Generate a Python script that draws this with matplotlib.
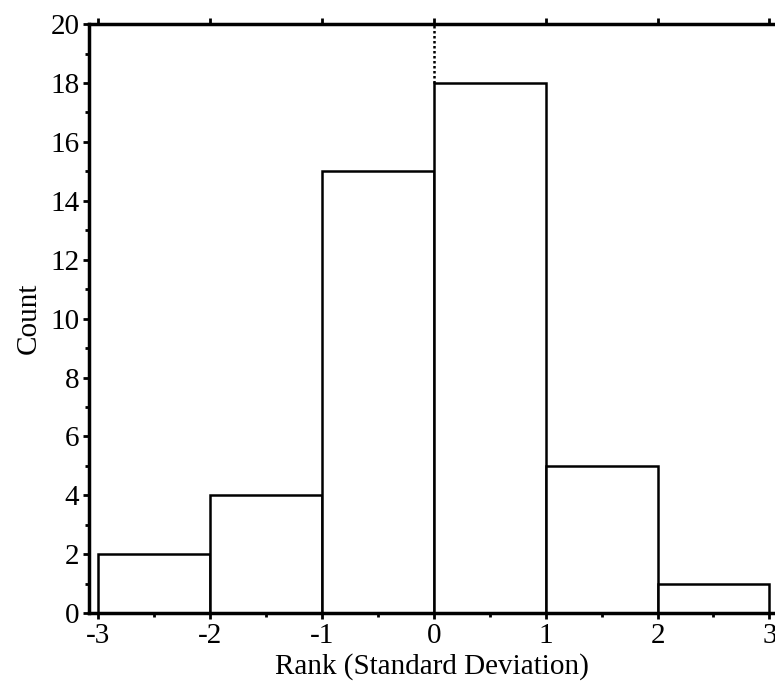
import numpy as np
import matplotlib.pyplot as plt
from matplotlib.ticker import MultipleLocator

bin_edges = [-3, -2, -1, 0, 1, 2, 3]
counts = [2, 4, 15, 18, 5, 1]
xticks = [-3, -2, -1, 0, 1, 2, 3]
yticks = [0, 2, 4, 6, 8, 10, 12, 14, 16, 18, 20]

plt.rcParams['font.family'] = ['Liberation Serif', 'DejaVu Serif']
plt.rcParams['axes.unicode_minus'] = False

fig = plt.figure(figsize=(7.75, 6.89), dpi=100)
ax = fig.add_axes([0.115, 0.110, 0.885, 0.855])

ax.hist(bin_edges[:-1], bins=bin_edges, weights=counts, histtype='bar',
        facecolor='white', edgecolor='black', linewidth=1.8)

ax.vlines(0, counts[3], 20, colors='black', linestyles=(0, (1, 1)), linewidth=1.8)

ax.set_xlim(-3.08, 3.05)
ax.set_ylim(0, 20)
ax.set_xticks(xticks)
ax.set_yticks(yticks)
ax.xaxis.set_minor_locator(MultipleLocator(0.5))
ax.yaxis.set_minor_locator(MultipleLocator(1))

ax.spines['right'].set_visible(False)
for s in ['left', 'bottom', 'top']:
    ax.spines[s].set_linewidth(2.5)

ax.tick_params(which='both', direction='out', width=2, labelsize=21, pad=3)
ax.tick_params(which='major', length=4)
ax.tick_params(which='minor', length=3)
ax.tick_params(axis='x', top=True, labeltop=False)

ax.set_xlabel('Rank (Standard Deviation)', fontsize=21, labelpad=3)
ax.set_ylabel('Count', fontsize=21, labelpad=6)

fig.savefig('out.png', dpi=100)
